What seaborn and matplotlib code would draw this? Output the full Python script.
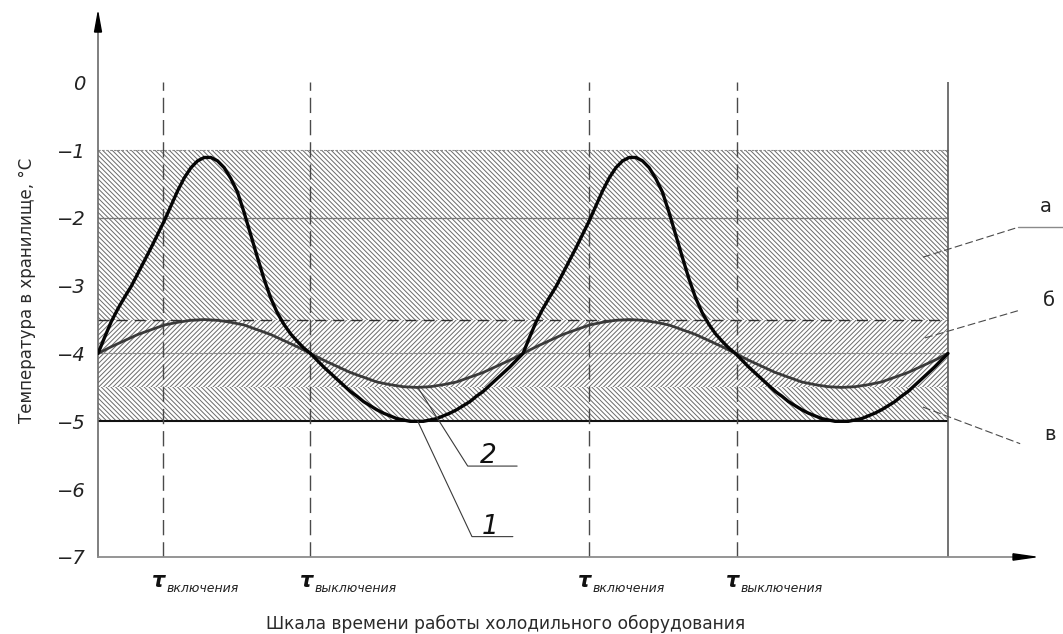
import matplotlib
matplotlib.use("Agg")
import matplotlib.pyplot as plt
from matplotlib.patches import Polygon
import pandas as pd
import seaborn as sns

# Time scale of the refrigeration unit (conventional units, one cycle = 8 units)
time_1 = [0.0, 0.125, 0.25, 0.375, 0.5, 0.625, 0.75, 0.875, 1.0, 1.125, 1.25, 1.375, 1.5, 1.625, 1.75, 1.875,
          2.0, 2.125, 2.25, 2.375, 2.5, 2.625, 2.75, 2.875, 3.0, 3.125, 3.25, 3.375, 3.5, 3.625, 3.75, 3.875,
          4.0, 4.125, 4.25, 4.375, 4.5, 4.625, 4.75, 4.875, 5.0, 5.125, 5.25, 5.375, 5.5, 5.625, 5.75, 5.875,
          6.0, 6.125, 6.25, 6.375, 6.5, 6.625, 6.75, 6.875, 7.0, 7.125, 7.25, 7.375, 7.5, 7.625, 7.75, 7.875,
          8.0, 8.125, 8.25, 8.375, 8.5, 8.625, 8.75, 8.875, 9.0, 9.125, 9.25, 9.375, 9.5, 9.625, 9.75, 9.875,
          10.0, 10.125, 10.25, 10.375, 10.5, 10.625, 10.75, 10.875, 11.0, 11.125, 11.25, 11.375, 11.5, 11.625, 11.75, 11.875,
          12.0, 12.125, 12.25, 12.375, 12.5, 12.625, 12.75, 12.875, 13.0, 13.125, 13.25, 13.375, 13.5, 13.625, 13.75, 13.875,
          14.0, 14.125, 14.25, 14.375, 14.5, 14.625, 14.75, 14.875, 15.0, 15.125, 15.25, 15.375, 15.5, 15.625, 15.75, 15.875,
          16.0]

# Curve 1: air temperature in the store, °C
temp_1 = [-4.00, -3.76, -3.53, -3.34, -3.17, -3.01, -2.82, -2.63, -2.44, -2.24, -2.04, -1.82, -1.60, -1.41, -1.26, -1.16,
          -1.11, -1.11, -1.16, -1.26, -1.42, -1.62, -1.92, -2.25, -2.58, -2.90, -3.18, -3.40, -3.57, -3.71, -3.82, -3.92,
          -4.00, -4.10, -4.20, -4.29, -4.38, -4.47, -4.56, -4.63, -4.71, -4.77, -4.83, -4.88, -4.92, -4.96, -4.98, -5.00,
          -5.00, -5.00, -4.98, -4.96, -4.92, -4.88, -4.83, -4.77, -4.71, -4.63, -4.56, -4.47, -4.38, -4.29, -4.20, -4.10,
          -4.00, -3.76, -3.53, -3.34, -3.17, -3.01, -2.82, -2.63, -2.44, -2.24, -2.04, -1.82, -1.60, -1.41, -1.26, -1.16,
          -1.11, -1.11, -1.16, -1.26, -1.42, -1.62, -1.92, -2.25, -2.58, -2.90, -3.18, -3.40, -3.57, -3.71, -3.82, -3.92,
          -4.00, -4.10, -4.20, -4.29, -4.38, -4.47, -4.56, -4.63, -4.71, -4.77, -4.83, -4.88, -4.92, -4.96, -4.98, -5.00,
          -5.00, -5.00, -4.98, -4.96, -4.92, -4.88, -4.83, -4.77, -4.71, -4.63, -4.56, -4.47, -4.38, -4.29, -4.20, -4.10,
          -4.00]

time_2 = [0.0, 0.25, 0.5, 0.75, 1.0, 1.25, 1.5, 1.75, 2.0, 2.25, 2.5, 2.75, 3.0, 3.25, 3.5, 3.75,
          4.0, 4.25, 4.5, 4.75, 5.0, 5.25, 5.5, 5.75, 6.0, 6.25, 6.5, 6.75, 7.0, 7.25, 7.5, 7.75,
          8.0, 8.25, 8.5, 8.75, 9.0, 9.25, 9.5, 9.75, 10.0, 10.25, 10.5, 10.75, 11.0, 11.25, 11.5, 11.75,
          12.0, 12.25, 12.5, 12.75, 13.0, 13.25, 13.5, 13.75, 14.0, 14.25, 14.5, 14.75, 15.0, 15.25, 15.5, 15.75,
          16.0]

# Curve 2: product temperature, °C
temp_2 = [-4.00, -3.90, -3.81, -3.72, -3.65, -3.58, -3.54, -3.51, -3.50, -3.51, -3.54, -3.58, -3.65, -3.72, -3.81, -3.90,
          -4.00, -4.10, -4.19, -4.28, -4.35, -4.42, -4.46, -4.49, -4.50, -4.49, -4.46, -4.42, -4.35, -4.28, -4.19, -4.10,
          -4.00, -3.90, -3.81, -3.72, -3.65, -3.58, -3.54, -3.51, -3.50, -3.51, -3.54, -3.58, -3.65, -3.72, -3.81, -3.90,
          -4.00, -4.10, -4.19, -4.28, -4.35, -4.42, -4.46, -4.49, -4.50, -4.49, -4.46, -4.42, -4.35, -4.28, -4.19, -4.10,
          -4.00]

# Switching moments of the refrigeration unit
t_on = [1.22, 9.24]
t_off = [4.0, 12.03]
t_end = 16.0

# Temperature zones а, б, в (lower bound, upper bound)
zone_names = ["а", "б", "в"]
zone_low = [-3.5, -4.5, -5.0]
zone_high = [-1.0, -3.5, -4.5]
zone_hatch = ["\\" * 7, "/" * 7, "\\" * 7]

y_ticks = [0, -1, -2, -3, -4, -5, -6, -7]
y_tick_labels = ["0", "\u22121", "\u22122", "\u22123", "\u22124", "\u22125", "\u22126", "\u22127"]

sns.set_theme(style="white")
plt.rcParams["font.family"] = ["DejaVu Sans"]
plt.rcParams["hatch.linewidth"] = 0.7

fig = plt.figure(figsize=(10.63, 6.34), dpi=100)
ax = fig.add_axes([0.0922, 0.1215, 0.8815, 0.8580])
ax.set_xlim(0, 17.64)
ax.set_ylim(-7, 1.02)

# hatched temperature zones
for lo, hi, h in zip(zone_low, zone_high, zone_hatch):
    ax.fill_between([0, t_end], [lo, lo], [hi, hi], facecolor="white",
                    edgecolor="#6a6a6a", hatch=h, linewidth=0, zorder=1)

# zone boundaries
ax.hlines(-1.0, 0, t_end, colors="#8a8a8a", linewidth=0.8, linestyles=(0, (2, 1.5)), zorder=2)
ax.hlines(-2.0, 0, t_end, colors="#7a7a7a", linewidth=0.9, zorder=2)
ax.hlines(-3.5, 0, t_end, colors="#2e2e2e", linewidth=1.0, linestyles=(0, (8, 5)), zorder=2)
ax.hlines(-4.0, 0, t_end, colors="#8e8e8e", linewidth=0.8, zorder=2)
ax.hlines(-5.0, 0, t_end, colors="#111111", linewidth=1.5, zorder=2)

# switching moments and end of the time scale
ax.vlines(t_on + t_off, -7, 0, colors="#4a4a4a", linewidth=1.0,
          linestyles=(0, (11, 5)), zorder=2)
ax.vlines(t_end, -7, 0, colors="#5a5a5a", linewidth=1.2, zorder=2)

df_1 = pd.DataFrame({"time": time_1, "temp": temp_1})
df_2 = pd.DataFrame({"time": time_2, "temp": temp_2})
sns.lineplot(data=df_2, x="time", y="temp", ax=ax, color="#3a3a3a", linewidth=2.0,
             zorder=4, solid_joinstyle="round", solid_capstyle="round")
sns.lineplot(data=df_1, x="time", y="temp", ax=ax, color="#050505", linewidth=2.4,
             zorder=5, solid_joinstyle="round", solid_capstyle="round")

# axes with arrows
for side in ["top", "right"]:
    ax.spines[side].set_visible(False)
ax.spines["left"].set_color("#6a6a6a")
ax.spines["left"].set_linewidth(1.2)
ax.spines["bottom"].set_color("#8c8c8c")
ax.spines["bottom"].set_linewidth(1.3)
ax.add_patch(Polygon([[1.0, 0.0], [0.9765, 0.0058], [0.9765, -0.0058]], closed=True,
                     transform=ax.transAxes, color="black", clip_on=False, zorder=6))
ax.add_patch(Polygon([[0.0, 1.0], [-0.0037, 0.965], [0.0037, 0.965]], closed=True,
                     transform=ax.transAxes, color="black", clip_on=False, zorder=6))

ax.set_yticks(y_ticks)
ax.set_yticklabels(y_tick_labels, fontstyle="italic", fontsize=14, color="#222222")
ax.tick_params(axis="y", length=0, pad=9)
ax.set_xticks([])
ax.set_xlabel("")
ax.set_ylabel("")

# switching moment labels under the time axis
for t_list, word in [(t_on, "включения"), (t_off, "выключения")]:
    for t in t_list:
        ax.text(t - 0.08, -7.45, "τ", fontsize=15, fontstyle="italic", fontweight="bold",
                ha="center", va="baseline", color="#111111")
        ax.text(t + 0.07, -7.52, word, fontsize=9, fontstyle="italic",
                ha="left", va="baseline", color="#222222")

# callouts for curves 1 and 2
lead = dict(color="#3a3a3a", linewidth=0.8, zorder=6, clip_on=False)
ax.plot([6.02, 6.96, 7.89], [-4.50, -5.66, -5.66], **lead)
ax.plot([6.02, 7.04, 7.81], [-5.00, -6.70, -6.70], **lead)
ax.text(7.34, -5.62, "2", fontsize=19, fontstyle="italic", ha="center", va="baseline", color="#111111")
ax.text(7.38, -6.66, "1", fontsize=19, fontstyle="italic", ha="center", va="baseline", color="#111111")

# zone leaders and names
zl = dict(color="#4a4a4a", linewidth=0.8, linestyle=(0, (7, 3)), zorder=6, clip_on=False)
ax.plot([15.53, 17.32], [-2.58, -2.14], **zl)
ax.plot([17.32, 18.2], [-2.14, -2.14], color="#8a8a8a", linewidth=1.0, clip_on=False)
ax.plot([15.57, 17.36], [-3.77, -3.36], **zl)
ax.plot([15.53, 17.36], [-4.79, -5.33], **zl)
zone_label_pos = [(17.85, -1.92), (17.9, -3.30), (17.92, -5.28)]
for name, (lx, ly) in zip(zone_names, zone_label_pos):
    ax.text(lx, ly, name, fontsize=14, ha="center", va="baseline", color="#222222")

fig.text(27 / 1063, 1 - 290 / 634, "Температура в хранилище, °С", rotation=90,
         ha="center", va="center", fontsize=12, color="#2a2a2a")
fig.text(506 / 1063, 1 - 629 / 634, "Шкала времени работы холодильного оборудования",
         ha="center", va="baseline", fontsize=12.3, color="#2a2a2a")

fig.savefig("out.png", dpi=100, facecolor="white")
